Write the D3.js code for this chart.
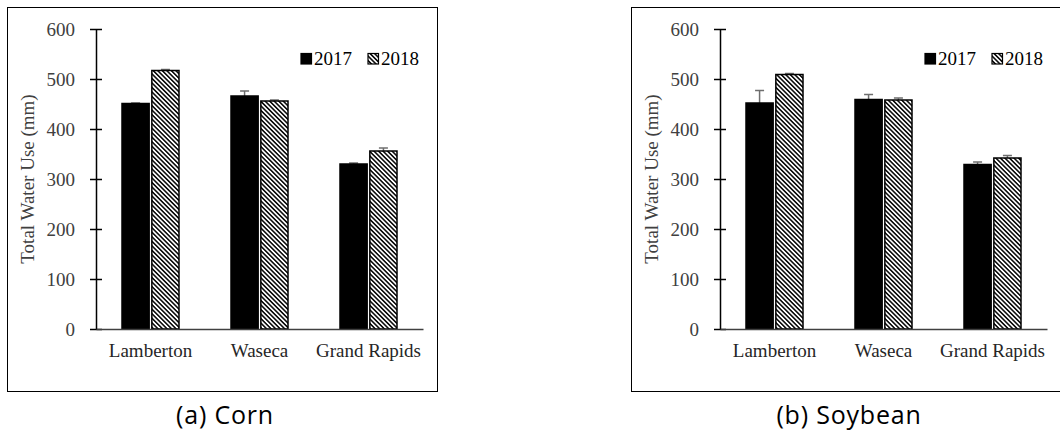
<!DOCTYPE html>
<meta charset="utf-8">
<script src="https://d3js.org/d3.v7.min.js"></script>
<style>
  body { margin: 0; background: #fff; }
</style>
<div id="chart"></div>
<script>
// Data
const sites = ["Lamberton", "Waseca", "Grand Rapids"];
const years = ["2017", "2018"];
const yTicks = [0, 100, 200, 300, 400, 500, 600];

const corn2017 = [451, 466, 330];
const corn2018 = [517, 456, 356];
const cornErr2017 = [1, 10, 2];
const cornErr2018 = [2, 2, 6];

const soy2017 = [452, 459, 329];
const soy2018 = [509, 458, 342];
const soyErr2017 = [25, 10, 5];
const soyErr2018 = [2, 4, 5];

const captions = ["(a) Corn", "(b) Soybean"];

const W = 1060, H = 437;
const SERIF = "'Liberation Serif', 'Times New Roman', serif";
const SANS = "'Open Sans', 'Noto Sans', sans-serif";

const svg = d3.select("#chart")
  .append("svg")
  .attr("width", W)
  .attr("height", H);

// hatch pattern for 2018 bars
const defs = svg.append("defs");
const pat = defs.append("pattern")
  .attr("id", "hatch")
  .attr("patternUnits", "userSpaceOnUse")
  .attr("width", 3.2)
  .attr("height", 3.2)
  .attr("patternTransform", "rotate(-45)");
pat.append("rect").attr("width", 3.2).attr("height", 3.2).attr("fill", "#fff");
pat.append("line")
  .attr("x1", 0.8).attr("y1", 0).attr("x2", 0.8).attr("y2", 3.2)
  .attr("stroke", "#000").attr("stroke-width", 1.5);

// inner layout of one panel (relative to panel origin)
const box = {x: 7.5, y: 7.5, w: 430, h: 384};
const plot = {left: 96, right: 423, top: 29, bottom: 329};

function drawPanel(offsetX, v17, v18, e17, e18, caption) {
  const g = svg.append("g").attr("transform", `translate(${offsetX},0)`);

  g.append("rect")
    .attr("x", box.x).attr("y", box.y)
    .attr("width", box.w).attr("height", box.h)
    .attr("fill", "none").attr("stroke", "#000").attr("stroke-width", 1);

  const x = d3.scaleBand()
    .domain(sites)
    .range([plot.left, plot.right]);

  const xIn = d3.scaleBand()
    .domain(years)
    .range([0, 57])
    .paddingInner(0.09);

  const y = d3.scaleLinear()
    .domain([0, 600])
    .range([plot.bottom, plot.top]);

  const groupOff = (x.bandwidth() - 57) / 2;

  const rows = sites.map((s, i) => [
    {site: s, year: "2017", v: v17[i], e: e17[i]},
    {site: s, year: "2018", v: v18[i], e: e18[i]}
  ]).flat();

  // y axis
  const yAxis = g.append("g")
    .attr("transform", `translate(${plot.left},0)`)
    .call(d3.axisLeft(y).tickValues(yTicks).tickSize(0).tickPadding(21));
  yAxis.select(".domain").attr("stroke", "#000").attr("stroke-width", 1.5);
  yAxis.selectAll(".tick text")
    .style("font-family", SERIF)
    .style("font-size", "19px")
    .attr("fill", "#404040");
  yAxis.selectAll(".tick").append("line")
    .attr("x1", -6).attr("x2", 6)
    .attr("stroke", "#000").attr("stroke-width", 1.5);

  // error bars, drawn first so the bars hide their lower half
  const cx = d => x(d.site) + groupOff + xIn(d.year) + xIn.bandwidth() / 2;
  const eb = g.append("g")
    .selectAll("g")
    .data(rows)
    .join("g")
    .attr("stroke", "#6e6e6e")
    .attr("stroke-width", 1.5);
  eb.append("line")
    .attr("x1", cx).attr("x2", cx)
    .attr("y1", d => y(d.v + d.e))
    .attr("y2", d => y(d.v - d.e));
  eb.append("line")
    .attr("x1", d => cx(d) - 4.5)
    .attr("x2", d => cx(d) + 4.5)
    .attr("y1", d => y(d.v + d.e))
    .attr("y2", d => y(d.v + d.e));

  // bars
  g.append("g")
    .selectAll("rect")
    .data(rows)
    .join("rect")
    .attr("x", d => x(d.site) + groupOff + xIn(d.year))
    .attr("y", d => y(d.v))
    .attr("width", xIn.bandwidth())
    .attr("height", d => y(0) - y(d.v))
    .attr("fill", d => d.year === "2017" ? "#000" : "url(#hatch)")
    .attr("stroke", "#000")
    .attr("stroke-width", 1.5);

  // x axis
  const xAxis = g.append("g")
    .attr("transform", `translate(0,${plot.bottom})`)
    .call(d3.axisBottom(x).tickSize(0).tickPadding(15));
  xAxis.select(".domain").attr("stroke", "#404040").attr("stroke-width", 1.5);
  xAxis.selectAll(".tick text")
    .style("font-family", SERIF)
    .style("font-size", "19px")
    .attr("fill", "#262626");

  // y axis title
  g.append("text")
    .attr("transform", `translate(34,${(plot.top + plot.bottom) / 2}) rotate(-90)`)
    .attr("text-anchor", "middle")
    .style("font-family", SERIF)
    .style("font-size", "19px")
    .attr("fill", "#404040")
    .text("Total Water Use (mm)");

  // legend
  const leg = g.append("g").attr("transform", "translate(301,53.5)");
  years.forEach((yr, i) => {
    const lx = i * 67;
    leg.append("rect")
      .attr("x", lx).attr("y", 0)
      .attr("width", 10.5).attr("height", 10.5)
      .attr("fill", yr === "2017" ? "#000" : "url(#hatch)")
      .attr("stroke", "#000").attr("stroke-width", 1.2);
    leg.append("text")
      .attr("x", lx + 13).attr("y", 11.5)
      .style("font-family", SERIF)
      .style("font-size", "19px")
      .attr("fill", "#000")
      .text(yr);
  });

  // caption under the panel
  g.append("text")
    .attr("x", 225)
    .attr("y", 424)
    .attr("text-anchor", "middle")
    .style("font-family", SANS)
    .style("font-size", "25px")
    .style("letter-spacing", "0.8px")
    .attr("fill", "#000")
    .text(caption);
}

drawPanel(0, corn2017, corn2018, cornErr2017, cornErr2018, captions[0]);
drawPanel(624, soy2017, soy2018, soyErr2017, soyErr2018, captions[1]);
</script>
